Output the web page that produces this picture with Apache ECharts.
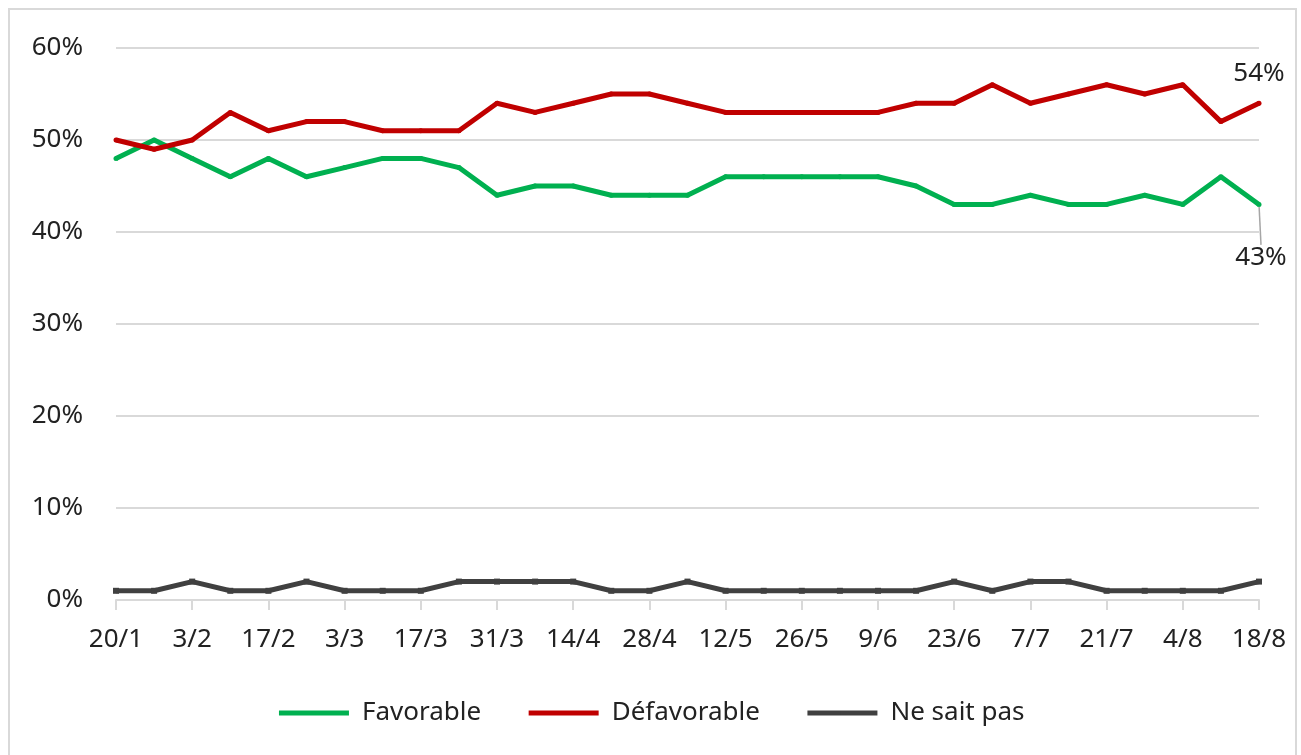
<!DOCTYPE html>
<html>
<head>
<meta charset="utf-8">
<script src="https://cdn.jsdelivr.net/npm/echarts@6/dist/echarts.min.js"></script>
<style>
  html, body { margin: 0; padding: 0; background: #fff; }
  #frame { position: absolute; left: 8px; top: 8px; width: 1289px; height: 760px; border: 2px solid #d9d9d9; box-sizing: border-box; }
  #main { position: absolute; left: 0; top: 0; width: 1301px; height: 755px; }
</style>
</head>
<body>
<div id="frame"></div>
<div id="main"></div>
<script>
// semaines (lundi), une étiquette sur deux affichée
var weeks = ['20/1', '27/1', '3/2', '10/2', '17/2', '24/2', '3/3', '10/3', '17/3', '24/3',
  '31/3', '7/4', '14/4', '21/4', '28/4', '5/5', '12/5', '19/5', '26/5', '2/6',
  '9/6', '16/6', '23/6', '30/6', '7/7', '14/7', '21/7', '28/7', '4/8', '11/8', '18/8']
var favorable = [48, 50, 48, 46, 48, 46, 47, 48, 48, 47, 44, 45, 45, 44, 44, 44, 46, 46, 46, 46,
  46, 45, 43, 43, 44, 43, 43, 44, 43, 46, 43]
var defavorable = [50, 49, 50, 53, 51, 52, 52, 51, 51, 51, 54, 53, 54, 55, 55, 54, 53, 53, 53, 53,
  53, 54, 54, 56, 54, 55, 56, 55, 56, 52, 54]
var nsp = [1, 1, 2, 1, 1, 2, 1, 1, 1, 2, 2, 2, 2, 1, 1, 2, 1, 1, 1, 1,
  1, 1, 2, 1, 2, 2, 1, 1, 1, 1, 2]

var font = 'Noto Sans'
var textColor = '#222'

// étiquette seulement sur le dernier point
function lastLabelled(arr, labelOpt) {
    return arr.map(function (v, i) {
        if (i !== arr.length - 1) return v
        return { value: v, label: labelOpt }
    })
}

var chart = echarts.init(document.getElementById('main'))
chart.setOption({
    animation: false,
    textStyle: { fontFamily: font },
    grid: { left: 116, right: 42, top: 48, bottom: 155 },
    legend: {
        bottom: 24,
        left: 'center',
        itemWidth: 70,
        itemHeight: 5,
        itemGap: 45,
        lineStyle: { width: 5 },
        textStyle: { fontFamily: font, fontSize: 26, color: textColor, padding: [0, 0, 0, 8] },
        data: ['Favorable', 'Défavorable', 'Ne sait pas']
    },
    xAxis: {
        type: 'category',
        data: weeks,
        boundaryGap: false,
        axisLine: { lineStyle: { color: '#d9d9d9', width: 2 } },
        axisTick: { show: true, interval: 1, length: 10, lineStyle: { color: '#d9d9d9', width: 2 } },
        axisLabel: { interval: 1, margin: 27, fontSize: 26, color: textColor, fontFamily: font },
        splitLine: { show: false }
    },
    yAxis: {
        type: 'value',
        min: 0,
        max: 60,
        interval: 10,
        axisLine: { show: false },
        axisTick: { show: false },
        axisLabel: { formatter: '{value}%', margin: 33, fontSize: 26, color: textColor, fontFamily: font },
        splitLine: { lineStyle: { color: '#d9d9d9', width: 2 } }
    },
    series: [{
        name: 'Favorable',
        type: 'line',
        data: lastLabelled(favorable, {
            show: true, position: 'bottom', distance: 4,
            formatter: '{c}%', fontSize: 26, color: textColor, fontFamily: font
        }),
        labelLayout: { dy: 34, dx: 2 },
        labelLine: { show: true, lineStyle: { color: '#a6a6a6', width: 1.5 } },
        symbol: 'circle',
        symbolSize: 5,
        itemStyle: { color: '#00b050' },
        lineStyle: { color: '#00b050', width: 5 },
        z: 3
    }, {
        name: 'Défavorable',
        type: 'line',
        data: lastLabelled(defavorable, {
            show: true, position: 'top', distance: 14,
            formatter: '{c}%', fontSize: 26, color: textColor, fontFamily: font
        }),
        symbol: 'circle',
        symbolSize: 5,
        itemStyle: { color: '#c00000' },
        lineStyle: { color: '#c00000', width: 5 },
        z: 4
    }, {
        name: 'Ne sait pas',
        type: 'line',
        data: nsp,
        symbol: 'rect',
        symbolSize: 6,
        itemStyle: { color: '#404040' },
        lineStyle: { color: '#404040', width: 5 },
        z: 2
    }]
})
</script>
</body>
</html>
